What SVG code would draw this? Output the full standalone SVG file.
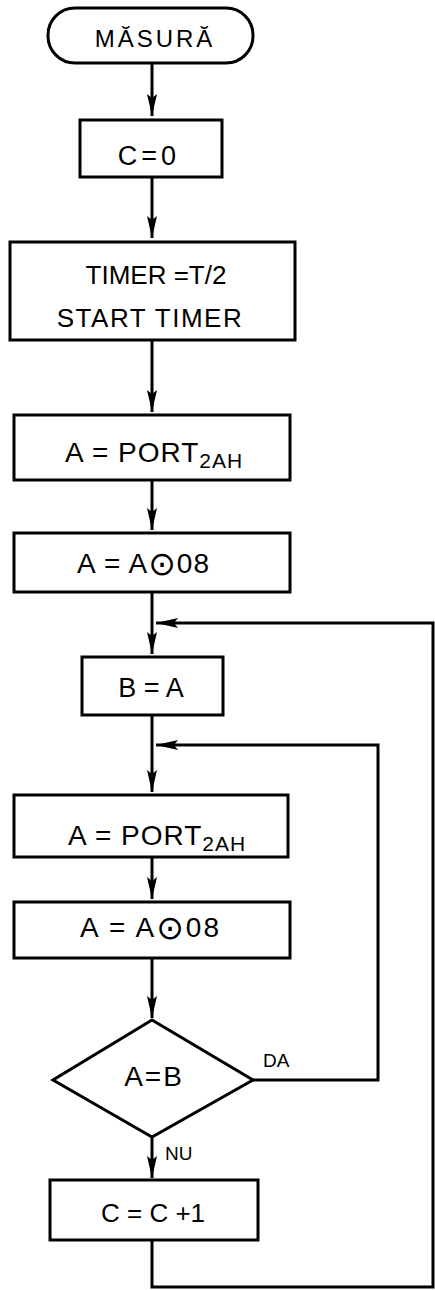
<svg xmlns="http://www.w3.org/2000/svg" width="435" height="1290" viewBox="0 0 435 1290">
<style>
.box{fill:#fff;stroke:#000;stroke-width:3}
.ln{fill:none;stroke:#000;stroke-width:3}
.t{font-family:"Liberation Sans",Arial,sans-serif;font-size:26px;fill:#000}
.p{font-size:28px}
.s{font-size:21px}
.lbl{font-family:"Liberation Sans",Arial,sans-serif;font-size:19px;fill:#000}
.op{font-family:"DejaVu Sans",sans-serif;font-size:33px}
</style>
<defs>
<marker id="ah" markerUnits="userSpaceOnUse" markerWidth="24" markerHeight="12" refX="22" refY="5" orient="auto" viewBox="0 0 24 10">
<path d="M0,0 L22,5 L0,10 L4,5 z" fill="#000"/>
</marker>
</defs>
<rect width="435" height="1290" fill="#fff"/>
<g id="connectors">
<path class="ln" d="M152,63 V116" marker-end="url(#ah)"/>
<path class="ln" d="M152,177 V238" marker-end="url(#ah)"/>
<path class="ln" d="M152,340 V412" marker-end="url(#ah)"/>
<path class="ln" d="M152,480 V530" marker-end="url(#ah)"/>
<path class="ln" d="M152,592 V654" marker-end="url(#ah)"/>
<path class="ln" d="M152,715 V792" marker-end="url(#ah)"/>
<path class="ln" d="M152,857 V899" marker-end="url(#ah)"/>
<path class="ln" d="M152,958 V1018" marker-end="url(#ah)"/>
<path class="ln" d="M152,1137 V1178" marker-end="url(#ah)"/>
<path class="ln" d="M152,1240 V1287 H433 V623 H156" marker-end="url(#ah)"/>
<path class="ln" d="M253,1080 H378 V745 H156" marker-end="url(#ah)"/>
</g>
<g id="start">
<rect class="box" x="48" y="8" width="205" height="55" rx="27"/>
<text class="t" x="155" y="47" text-anchor="middle" style="font-size:24px;letter-spacing:3px">MĂSURĂ</text>
</g>
<g id="c0">
<rect class="box" x="80" y="120" width="142" height="57"/>
<text class="t" x="149" y="165" text-anchor="middle" style="font-size:27px;letter-spacing:4px">C=0</text>
</g>
<g id="timer">
<rect class="box" x="10" y="242" width="285" height="98"/>
<text class="t" x="156" y="284" text-anchor="middle">TIMER =T/2</text>
<text class="t" x="150" y="327" text-anchor="middle" style="letter-spacing:1.5px">START TIMER</text>
</g>
<g id="port1">
<rect class="box" x="14" y="415" width="276" height="65"/>
<text class="t p" x="65" y="462" style="letter-spacing:1px">A = PORT<tspan class="s" dy="6">2AH</tspan></text>
</g>
<g id="and1">
<rect class="box" x="14" y="533" width="276" height="59"/>
<text class="t p" x="77" y="573" style="letter-spacing:1px">A = A<tspan class="op" dy="2">⊙</tspan><tspan dy="-2">08</tspan></text>
</g>
<g id="b_eq_a">
<rect class="box" x="82" y="657" width="141" height="58"/>
<text class="t" x="151" y="697" text-anchor="middle" style="font-size:27px">B = A</text>
</g>
<g id="port2">
<rect class="box" x="14" y="795" width="274" height="62"/>
<text class="t p" x="68" y="845" style="letter-spacing:1px">A = PORT<tspan class="s" dy="6">2AH</tspan></text>
</g>
<g id="and2">
<rect class="box" x="14" y="902" width="276" height="56"/>
<text class="t p" x="80" y="937" style="letter-spacing:2px">A  = A<tspan class="op" dy="2">⊙</tspan><tspan dy="-2">08</tspan></text>
</g>
<g id="decision">
<polygon class="box" points="152,1020 253,1080 152,1137 53,1080"/>
<text class="t p" x="154" y="1086" text-anchor="middle" style="letter-spacing:2px">A=B</text>
<text class="lbl" x="263" y="1067">DA</text>
<text class="lbl" x="165" y="1160">NU</text>
</g>
<g id="inc">
<rect class="box" x="50" y="1180" width="208" height="60"/>
<text class="t" x="153" y="1222" text-anchor="middle">C = C +1</text>
</g>
</svg>
